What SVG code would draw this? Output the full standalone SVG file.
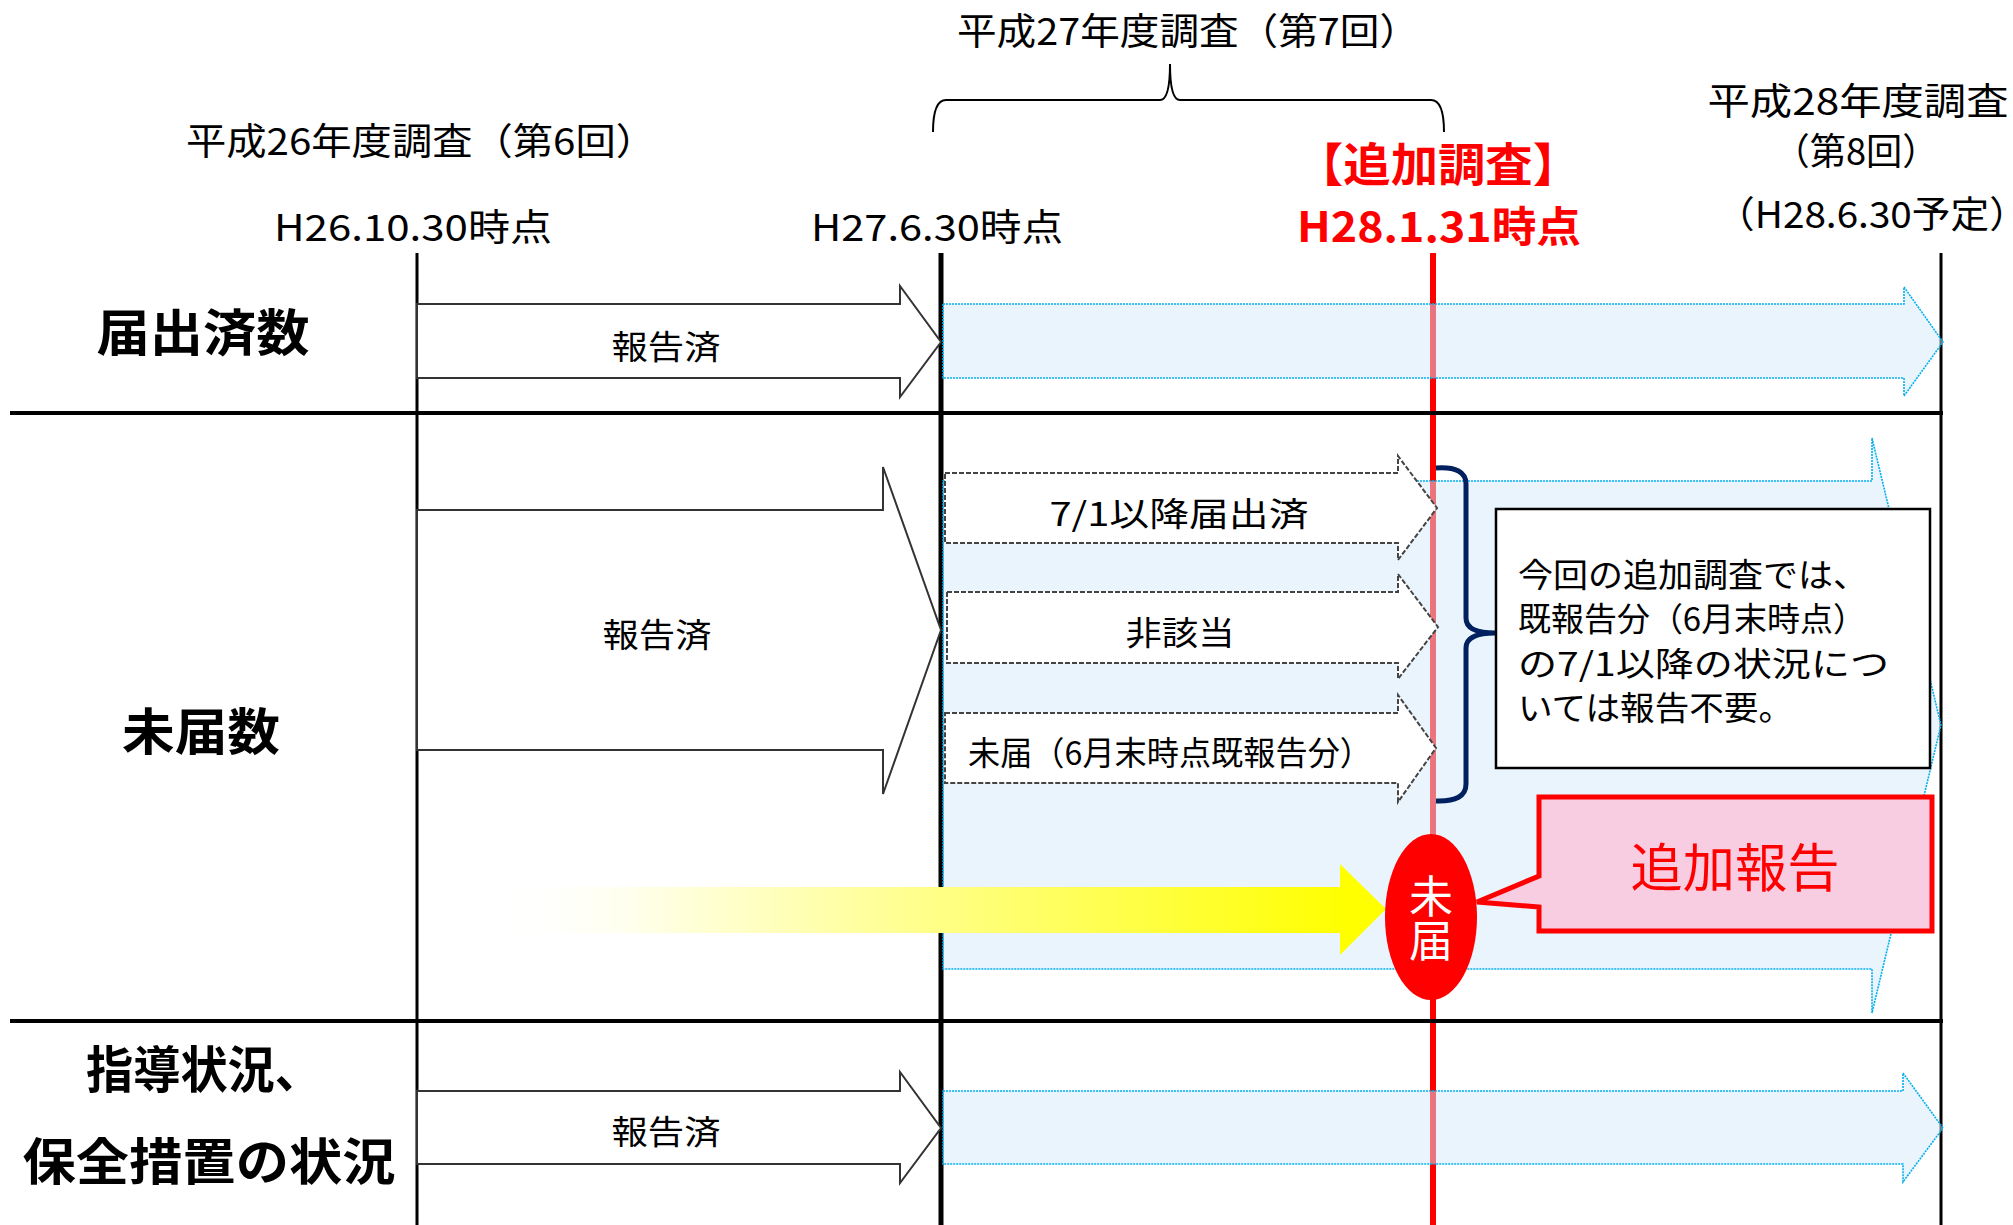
<svg xmlns="http://www.w3.org/2000/svg" width="2013" height="1225" viewBox="0 0 2013 1225">
<defs>
<style>
text{font-family:"Noto Sans CJK JP","Noto Sans CJK SC",sans-serif;fill:#000;}
.t{font-size:37px;text-anchor:middle;}
.lbl{font-size:50px;font-weight:bold;text-anchor:middle;}
.red{fill:#FF0000;font-weight:bold;text-anchor:middle;}
.small{font-size:33px;text-anchor:middle;}
.box{font-size:33px;}
.wa{fill:#fff;stroke:#333;stroke-width:2;}
.da{fill:#fff;stroke:#444;stroke-width:2;stroke-dasharray:5 2;}
.ba{fill:rgb(213,233,251);fill-opacity:0.5;stroke:#00B0F0;stroke-width:1.6;stroke-dasharray:2 1;}
.ln{stroke:#000;fill:none;}
</style>
<linearGradient id="yg" gradientUnits="userSpaceOnUse" x1="490" y1="0" x2="1345" y2="0">
<stop offset="0" stop-color="#FFFFFF" stop-opacity="0"/>
<stop offset="0.15" stop-color="#FFFFF0" stop-opacity="1"/>
<stop offset="1" stop-color="#FFFF00"/>
</linearGradient>
</defs>
<rect width="2013" height="1225" fill="#fff"/>

<g id="grid">
<line class="ln" x1="417" y1="253" x2="417" y2="1225" stroke-width="3"/>
<line class="ln" x1="941" y1="253" x2="941" y2="1225" stroke-width="5"/>
<line class="ln" x1="1941" y1="253" x2="1941" y2="1225" stroke-width="3"/>
<line x1="1433" y1="253" x2="1433" y2="1225" stroke="#FF0000" stroke-width="6"/>
<line class="ln" x1="10" y1="413" x2="1943" y2="413" stroke-width="4"/>
<line class="ln" x1="10" y1="1021" x2="1943" y2="1021" stroke-width="4"/>
</g>

<g id="headers">
<text class="t" x="421" y="155" textLength="470" lengthAdjust="spacingAndGlyphs">平成26年度調査（第6回）</text>
<text class="t" x="1188" y="45" textLength="462" lengthAdjust="spacingAndGlyphs">平成27年度調査（第7回）</text>
<path class="ln" stroke-width="2" d="M933,132 Q933,100 946,100 L1160,100 Q1170,100 1170,64 Q1170,100 1180,100 L1431,100 Q1444,100 1444,132"/>
<text class="t" x="413" y="241" textLength="278" lengthAdjust="spacingAndGlyphs">H26.10.30時点</text>
<text class="t" x="937" y="241" textLength="252" lengthAdjust="spacingAndGlyphs">H27.6.30時点</text>
<text class="red" x="1438" y="181" font-size="46" textLength="284" lengthAdjust="spacingAndGlyphs">【追加調査】</text>
<text class="red" x="1439" y="242" font-size="42" textLength="284" lengthAdjust="spacingAndGlyphs">H28.1.31時点</text>
<text class="t" x="1858" y="115" textLength="301" lengthAdjust="spacingAndGlyphs">平成28年度調査</text>
<text class="t" x="1856" y="165" textLength="165" lengthAdjust="spacingAndGlyphs">（第8回）</text>
<text class="t" x="1872" y="228" textLength="312" lengthAdjust="spacingAndGlyphs">（H28.6.30予定）</text>
</g>

<g id="row-labels">
<text class="lbl" x="203" y="351" textLength="213" lengthAdjust="spacingAndGlyphs">届出済数</text>
<text class="lbl" x="201" y="750" textLength="158" lengthAdjust="spacingAndGlyphs">未届数</text>
<text class="lbl" x="204" y="1088" textLength="236" lengthAdjust="spacingAndGlyphs">指導状況、</text>
<text class="lbl" x="209" y="1180" textLength="373" lengthAdjust="spacingAndGlyphs">保全措置の状況</text>
</g>

<g id="connectors">
<polygon id="blue1" class="ba" points="943,304 1904,304 1904,287 1943,342 1904,396 1904,378 943,378"/>
<polygon id="blue2" class="ba" points="943,481 1872,481 1872,438 1941,725 1872,1013 1872,969 943,969"/>
<polygon id="blue3" class="ba" points="943,1091 1903,1091 1903,1073 1943,1128 1903,1182 1903,1164 943,1164"/>
<polygon id="rep1" class="wa" points="417,304 900,304 900,286 941,342 900,397 900,378 417,378"/>
<polygon id="rep2" class="wa" points="417,510 883,510 883,467 941,630 883,794 883,750 417,750"/>
<polygon id="rep3" class="wa" points="417,1091 900,1091 900,1072 941,1128 900,1183 900,1164 417,1164"/>
<polygon id="dash1" class="da" points="945,473 1398,473 1398,456 1437,508 1398,560 1398,543 945,543"/>
<polygon id="dash2" class="da" points="947,592 1398,592 1398,574 1438,627 1398,679 1398,663 947,663"/>
<polygon id="dash3" class="da" points="945,713 1398,713 1398,695 1436,748 1398,802 1398,783 945,783"/>
<polygon id="yellow" fill="url(#yg)" points="490,887 1340,887 1340,864 1386,909 1340,955 1340,933 490,933"/>
</g>

<g id="arrow-labels">
<text class="small" x="666" y="359" textLength="109" lengthAdjust="spacingAndGlyphs">報告済</text>
<text class="small" x="657" y="647" textLength="109" lengthAdjust="spacingAndGlyphs">報告済</text>
<text class="small" x="666" y="1144" textLength="109" lengthAdjust="spacingAndGlyphs">報告済</text>
<text class="small" x="1179" y="526" textLength="259" lengthAdjust="spacingAndGlyphs">7/1以降届出済</text>
<text class="small" x="1180" y="645" textLength="109" lengthAdjust="spacingAndGlyphs">非該当</text>
<text class="small" x="1170" y="765" font-size="31" textLength="404" lengthAdjust="spacingAndGlyphs">未届（6月末時点既報告分）</text>
</g>

<g id="brace">
<path d="M1436,468 Q1466,466 1466,484 L1466,618 Q1466,633 1495,633 Q1466,633 1466,648 L1466,784 Q1466,802 1436,801" fill="none" stroke="#002060" stroke-width="5"/>
</g>

<g id="note">
<rect x="1496" y="509" width="434" height="259" fill="#fff" stroke="#000" stroke-width="2.5"/>
<text class="box" x="1518" y="587" textLength="350" lengthAdjust="spacingAndGlyphs">今回の追加調査では、</text>
<text class="box" x="1518" y="631" textLength="348" lengthAdjust="spacingAndGlyphs">既報告分（6月末時点）</text>
<text class="box" x="1518" y="676" textLength="371" lengthAdjust="spacingAndGlyphs">の7/1以降の状況につ</text>
<text class="box" x="1518" y="720" textLength="275" lengthAdjust="spacingAndGlyphs">いては報告不要。</text>
</g>

<g id="midodoke">
<ellipse cx="1431" cy="917" rx="46" ry="83" fill="#FF0000"/>
<text x="1431" y="918" font-size="44" text-anchor="middle" writing-mode="vertical-rl" style="fill:#fff">未届</text>
</g>

<g id="callout">
<path d="M1539,797 L1932,797 L1932,931 L1539,931 L1539,907 L1477,902 L1539,876 Z" fill="#F9CDE1" stroke="#FF0000" stroke-width="5"/>
<text x="1735" y="887" font-size="52" text-anchor="middle" textLength="209" lengthAdjust="spacingAndGlyphs" style="fill:#FF0000">追加報告</text>
</g>
</svg>
